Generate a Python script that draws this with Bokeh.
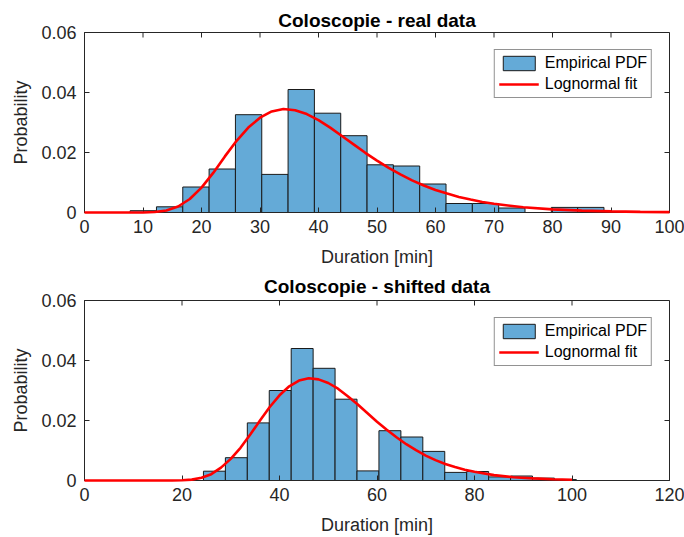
import math
from bokeh.plotting import figure
from bokeh.models import (ColumnDataSource, FixedTicker, Range1d,
                          Legend, LegendItem)
from bokeh.layouts import column
from bokeh.embed import file_html
from bokeh.resources import INLINE

# ---------------- data ----------------
real_edges = [7.8, 12.3, 16.8, 21.3, 25.8, 30.3, 34.8, 39.3, 43.8, 48.3,
              52.8, 57.3, 61.8, 66.3, 70.8, 75.3, 79.8, 84.3, 88.8]
real_pdf = [0.0006, 0.0019, 0.0085, 0.0145, 0.0326, 0.0127, 0.0410, 0.0331,
            0.0256, 0.0159, 0.0155, 0.0095, 0.0030, 0.0030, 0.0015, 0.0,
            0.0017, 0.0017]

real_fit_x = [0, 4, 8, 10, 12, 14, 16, 18, 20, 22, 24, 26, 28, 30, 32, 34,
              36, 38, 40, 42, 44, 46, 48, 50, 52, 54, 56, 58, 60, 62, 64, 66,
              68, 70, 75, 80, 85, 90, 95, 100]
real_fit_y = [0.0, 0.0, 0.0, 0.00002, 0.00016, 0.00068, 0.0020, 0.0045,
              0.0083, 0.0132, 0.0187, 0.0239, 0.0283, 0.0316, 0.0337, 0.0345,
              0.0341, 0.0328, 0.0308, 0.0283, 0.0255, 0.0227, 0.0199, 0.0173,
              0.0149, 0.0127, 0.0107, 0.0090, 0.0075, 0.0063, 0.0052, 0.0043,
              0.0035, 0.0029, 0.00175, 0.00104, 0.00062, 0.00037, 0.00022,
              0.00013]

shift_edges = [24.4, 28.9, 33.4, 37.9, 42.4, 46.9, 51.4, 55.9, 60.4, 64.9,
               69.4, 73.9, 78.4, 82.9, 87.4, 91.9, 96.4, 100.9]
shift_pdf = [0.0031, 0.0076, 0.0192, 0.0300, 0.0440, 0.0374, 0.0271, 0.0032,
             0.0166, 0.0145, 0.0097, 0.0027, 0.0030, 0.0012, 0.0015, 0.0008,
             0.0003]

shift_fit_x = [0, 5, 10, 15, 18, 20, 22, 24, 26, 28, 30, 32, 34, 36, 38, 40,
               42, 44, 46, 48, 50, 52, 54, 56, 58, 60, 62, 64, 66, 68, 70, 72,
               74, 76, 78, 80, 84, 88, 92, 96, 100]
shift_fit_y = [0.0, 0.0, 0.0, 0.0, 0.00002, 0.0001, 0.0003, 0.0009, 0.0021,
               0.0043, 0.0072, 0.0109, 0.0153, 0.0200, 0.0245, 0.0284, 0.0314,
               0.0333, 0.0341, 0.0337, 0.0325, 0.0306, 0.0281, 0.0254, 0.0225,
               0.0196, 0.0169, 0.0144, 0.0121, 0.0101, 0.0083, 0.0068, 0.0055,
               0.0045, 0.0036, 0.0029, 0.0018, 0.0011, 0.0007, 0.0004,
               0.00025]

y_ticks = [0, 0.02, 0.04, 0.06]
y_tick_labels = ["0", "0.02", "0.04", "0.06"]
real_x_ticks = [0, 10, 20, 30, 40, 50, 60, 70, 80, 90, 100]
shift_x_ticks = [0, 20, 40, 60, 80, 100, 120]

titles = ["Coloscopie - real data", "Coloscopie - shifted data"]
x_label = "Duration [min]"
y_label = "Probability"
legend_labels = ["Empirical PDF", "Lognormal fit"]

# ---------------- style ----------------
FONT = "Liberation Sans"
TXT = "#262626"
BAR = "#64AAD7"
RED = "#FF0000"
YMAX = 0.06


def make_plot(title, edges, pdf, fx, fy, xmax, xticks, height, top_border,
              title_standoff):
    fig = figure(width=684, height=height, output_backend="svg",
                 toolbar_location=None,
                 x_range=Range1d(0, xmax), y_range=Range1d(0, YMAX),
                 min_border_left=84, min_border_right=15,
                 min_border_top=top_border,
                 min_border_bottom=height - top_border - 180,
                 background_fill_color="white", border_fill_color="white",
                 outline_line_color="#262626", outline_line_width=1)
    fig.xgrid.visible = False
    fig.ygrid.visible = False

    fig.title.text = title
    fig.title.align = "center"
    fig.title.text_font = FONT
    fig.title.text_font_size = "19px"
    fig.title.text_font_style = "bold"
    fig.title.text_color = "black"
    fig.title.standoff = title_standoff

    src = ColumnDataSource(dict(left=edges[:-1], right=edges[1:], top=pdf,
                                bottom=[0] * len(pdf)))
    bars = fig.quad(left="left", right="right", top="top", bottom="bottom",
                    source=src, fill_color=BAR, line_color="#1a1a1a",
                    line_width=1)
    line = fig.line(fx, fy, line_color=RED, line_width=2.6, level="overlay")

    for ax in (fig.xaxis[0], fig.yaxis[0]):
        ax.major_label_text_font = FONT
        ax.major_label_text_font_size = "18px"
        ax.major_label_text_color = TXT
        ax.axis_label_text_font = FONT
        ax.axis_label_text_font_size = "18px"
        ax.axis_label_text_font_style = "normal"
        ax.axis_label_text_color = TXT
        ax.axis_line_color = "#262626"
        ax.major_tick_line_color = "#262626"
        ax.major_tick_in = 5
        ax.major_tick_out = 0
        ax.minor_tick_line_color = None

    fig.xaxis[0].ticker = FixedTicker(ticks=xticks)
    fig.xaxis[0].axis_label = x_label
    fig.xaxis[0].major_label_standoff = 7
    fig.xaxis[0].axis_label_standoff = 11

    fig.yaxis[0].ticker = FixedTicker(ticks=y_ticks)
    fig.yaxis[0].major_label_overrides = {t: l for t, l in zip(y_ticks, y_tick_labels)}
    fig.yaxis[0].axis_label = y_label
    fig.yaxis[0].major_label_standoff = 8
    fig.yaxis[0].axis_label_standoff = 7

    # box-style inner ticks on the top and right edges
    fig.ray(x=xticks, y=[YMAX] * len(xticks), length=5, length_units="screen",
            angle=-math.pi / 2, line_color="#262626", line_width=1)
    fig.ray(x=[xmax] * len(y_ticks), y=y_ticks, length=5, length_units="screen",
            angle=math.pi, line_color="#262626", line_width=1)

    legend = Legend(items=[LegendItem(label=legend_labels[0], renderers=[bars]),
                           LegendItem(label=legend_labels[1], renderers=[line])],
                    location="top_right", margin=17, padding=4, spacing=3,
                    glyph_width=40, glyph_height=18, label_standoff=6,
                    label_text_font=FONT, label_text_font_size="16px",
                    label_text_color="black",
                    border_line_color="#262626", border_line_width=1,
                    background_fill_color="white", background_fill_alpha=1)
    fig.add_layout(legend)
    return fig


p1 = make_plot(titles[0], real_edges, real_pdf, real_fit_x, real_fit_y,
               100, real_x_ticks, 270, 32, 4)
p2 = make_plot(titles[1], shift_edges, shift_pdf, shift_fit_x, shift_fit_y,
               120, shift_x_ticks, 267, 30, 7)

p = column(p1, p2, spacing=0)
open("out.html", "w").write(file_html(p, INLINE))
